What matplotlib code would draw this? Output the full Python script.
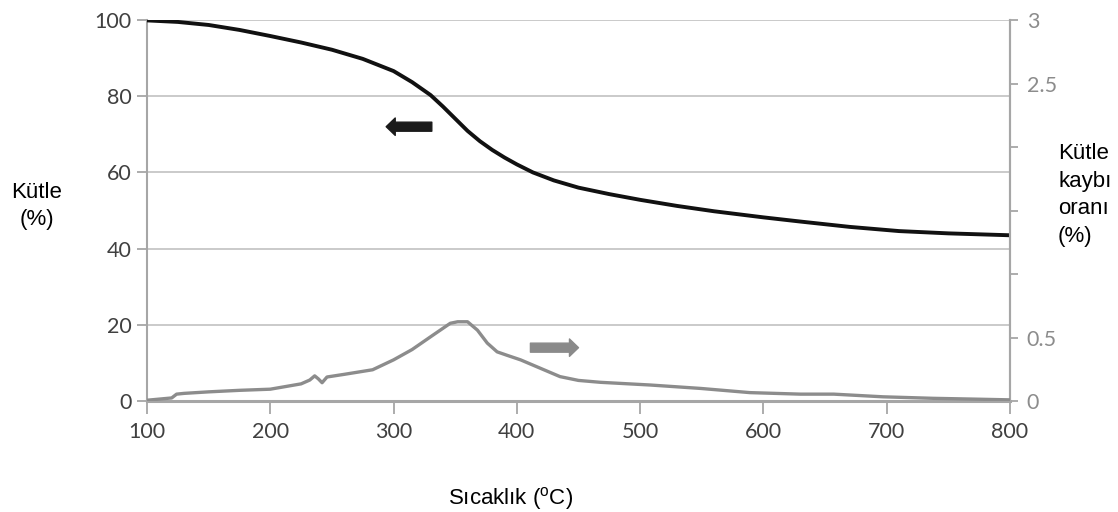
# ----------------------------------------------------------------------------------------------------------------------
import matplotlib
matplotlib.use("Agg")
import matplotlib.pyplot as plt
# ----------------------------------------------------------------------------------------------------------------------

# Mass Curve (Left Axis, %)
temp_mass = [100, 125, 150, 175, 200, 225, 250, 275, 300, 315, 330, 340, 350, 360, 370, 380, 390, 400, 413,
             430, 450, 475, 500, 530, 560, 600, 630, 670, 710, 750, 800]
mass = [99.9, 99.5, 98.7, 97.4, 95.8, 94.1, 92.2, 89.8, 86.6, 83.7, 80.3, 77.3, 74.1, 70.9, 68.2, 65.9, 63.9,
        62.1, 60.0, 57.9, 56.0, 54.3, 52.8, 51.2, 49.8, 48.2, 47.1, 45.7, 44.6, 44.0, 43.5]

# Mass Loss Rate Curve (Right Axis, %)
temp_rate = [100, 110, 120, 124, 130, 150, 175, 200, 225, 232, 236, 239, 242, 246, 260, 283, 300, 315, 332, 346,
             352, 360, 368, 376, 384, 392, 403, 419, 435, 450, 468, 508, 549, 589, 630, 657, 697, 738, 770, 800]
rate = [0.006, 0.015, 0.024, 0.054, 0.060, 0.072, 0.084, 0.093, 0.135, 0.165, 0.198, 0.174, 0.144, 0.189, 0.210,
        0.246, 0.324, 0.405, 0.519, 0.612, 0.624, 0.624, 0.558, 0.456, 0.387, 0.360, 0.324, 0.258, 0.192, 0.162,
        0.147, 0.126, 0.099, 0.066, 0.054, 0.054, 0.033, 0.021, 0.015, 0.009]

x_ticks = [100, 200, 300, 400, 500, 600, 700, 800]
left_ticks = [0, 20, 40, 60, 80, 100]
right_ticks = [0, 0.5, 1, 1.5, 2, 2.5, 3]
right_tick_labels = ["0", "0.5", "", "", "", "2.5", "3"]

# ----------------------------------------------------------------------------------------------------------------------
TICK_FONT = "Lato"
LABEL_FONT = "Liberation Sans"
SPINE = "#a6a6a6"
GRID = "#c6c6c6"


def plot_data():

    fig = plt.figure(figsize=(11.18, 5.12), dpi=100)
    ax = fig.add_axes([0.1315, 0.2168, 0.7719, 0.7441])
    ax2 = ax.twinx()

    # [1.] Curves
    ax.plot(temp_mass, mass, color="#111111", lw=2.8, solid_joinstyle="round", zorder=3)
    ax2.plot(temp_rate, rate, color="#8c8c8c", lw=2.4, solid_joinstyle="round", zorder=3)

    # [2.] Axes Limits & Grid
    ax.set_xlim(100, 800)
    ax.set_ylim(0, 100)
    ax2.set_ylim(0, 3)
    ax.set_yticks(left_ticks)
    ax.set_xticks(x_ticks)
    ax2.set_yticks(right_ticks)
    ax2.set_yticklabels(right_tick_labels)
    ax.yaxis.grid(True, color=GRID, lw=1.3)
    ax.set_axisbelow(True)

    for a in (ax, ax2):
        a.spines["top"].set_visible(False)
        for s in ("left", "right"):
            a.spines[s].set_color(SPINE)
            a.spines[s].set_linewidth(1.5)
        a.spines["bottom"].set_color(SPINE)
        a.spines["bottom"].set_linewidth(2.2)
    ax2.spines["left"].set_visible(False)
    ax2.spines["bottom"].set_visible(False)

    ax.tick_params(axis="y", length=7, width=1.3, color=SPINE, labelcolor="#404040", labelsize=15.5, pad=4)
    ax.tick_params(axis="x", length=9, width=1.3, color=SPINE, labelcolor="#404040", labelsize=15.5, pad=6)
    ax2.tick_params(axis="y", length=6, width=1.3, color=SPINE, labelcolor="#8c8c8c", labelsize=15.5, pad=6)
    for lab in ax.get_xticklabels() + ax.get_yticklabels() + ax2.get_yticklabels():
        lab.set_family(TICK_FONT)

    # [3.] Direction Arrows
    ax.annotate("", xy=(294, 72.0), xytext=(331, 72.0),
                arrowprops=dict(arrowstyle="simple,head_length=0.65,head_width=1.25,tail_width=0.65",
                                mutation_scale=10, color="#1a1a1a", shrinkA=0, shrinkB=0))
    ax2.annotate("", xy=(450, 0.42), xytext=(411, 0.42),
                 arrowprops=dict(arrowstyle="simple,head_length=0.65,head_width=1.25,tail_width=0.65",
                                 mutation_scale=10, color="#8a8a8a", shrinkA=0, shrinkB=0))

    # [4.] Axis Titles
    fig.text(37 / 1118, 1 - 206 / 512, "Kütle\n(%)", family=LABEL_FONT, fontsize=16, ha="center", va="center",
             linespacing=1.35)
    fig.text(1058 / 1118, 1 - 195 / 512, "Kütle\nkaybı\noranı\n(%)", family=LABEL_FONT, fontsize=16, ha="left",
             va="center", linespacing=1.4)
    fig.text(511 / 1118, 1 - 498 / 512, "Sıcaklık ($\\mathregular{^{o}}$C)", family=LABEL_FONT, fontsize=16,
             ha="center", va="center")

    fig.savefig("out.png", dpi=100)


# ----------------------------------------------------------------------------------------------------------------------
if __name__ == "__main__":

    plot_data()
